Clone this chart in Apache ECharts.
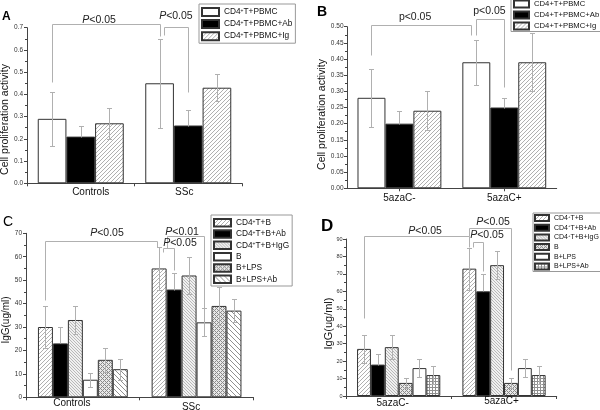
<!DOCTYPE html>
<html><head><meta charset="utf-8">
<script src="https://cdn.jsdelivr.net/npm/echarts@6/dist/echarts.min.js"></script>
<style>html,body{margin:0;padding:0;background:#fff}#c{width:600px;height:410px}</style>
</head><body><div id="c"></div>
<script>
// ================= DATA =================
// Panel A
const catsA = ['Controls', 'SSc'];
const namesA = ['CD4+T+PBMC', 'CD4+T+PBMC+Ab', 'CD4+T+PBMC+Ig'];
const a_PBMC = [0.29, 0.45], a_PBMC_lo = [0.17, 0.25], a_PBMC_hi = [0.41, 0.65];
const a_Ab   = [0.21, 0.26], a_Ab_lo   = [null, null], a_Ab_hi   = [0.26, 0.33];
const a_Ig   = [0.27, 0.43], a_Ig_lo   = [0.20, 0.37], a_Ig_hi   = [0.34, 0.49];
const yTicksA = [0, 0.7, 0.1];
// Panel B
const catsB = ['5azaC-', '5azaC+'];
const namesB = ['CD4+T+PBMC', 'CD4+T+PBMC+Ab', 'CD4+T+PBMC+Ig'];
const b_PBMC = [0.28, 0.39], b_PBMC_lo = [0.19, 0.32], b_PBMC_hi = [0.37, 0.46];
const b_Ab   = [0.20, 0.25], b_Ab_lo   = [null, null], b_Ab_hi   = [0.24, 0.28];
const b_Ig   = [0.24, 0.39], b_Ig_lo   = [0.18, 0.30], b_Ig_hi   = [0.30, 0.48];
const yTicksB = [0, 0.5, 0.05];
// Panel C
const catsC = ['Controls', 'SSc'];
const namesC = ['CD4+T+B', 'CD4+T+B+Ab', 'CD4+T+B+IgG', 'B', 'B+LPS', 'B+LPS+Ab'];
const c_TB     = [30, 55],  c_TB_lo     = [21, 46],   c_TB_hi     = [39, 64];
const c_TBAb   = [23, 46],  c_TBAb_lo   = [null, null], c_TBAb_hi = [30, 53];
const c_TBIgG  = [33, 52],  c_TBIgG_lo  = [27, 44],   c_TBIgG_hi  = [39, 60];
const c_B      = [7.5, 32], c_B_lo      = [4.5, 26],  c_B_hi      = [10.5, 38];
const c_BLPS   = [16, 39],  c_BLPS_lo   = [11, 31],   c_BLPS_hi   = [21, 47];
const c_BLPSAb = [12, 37],  c_BLPSAb_lo = [7.5, 32],  c_BLPSAb_hi = [16.5, 42];
const yTicksC = [0, 70, 10];
// Panel D
const catsD = ['5azaC-', '5azaC+'];
const namesD = ['CD4+T+B', 'CD4+T+B+Ab', 'CD4+T+B+IgG', 'B', 'B+LPS', 'B+LPS+Ab'];
const d_TB     = [27, 73],   d_TB_lo     = [19, 61],   d_TB_hi     = [35, 85];
const d_TBAb   = [18, 60],   d_TBAb_lo   = [null, null], d_TBAb_hi = [24, 70];
const d_TBIgG  = [28, 75],   d_TBIgG_lo  = [21, 67],   d_TBIgG_hi  = [35, 83];
const d_B      = [7.5, 7.5], d_B_lo      = [4.5, 4.5], d_B_hi      = [10.5, 10.5];
const d_BLPS   = [16, 16],   d_BLPS_lo   = [11, 11],   d_BLPS_hi   = [21, 21];
const d_BLPSAb = [12, 12],   d_BLPSAb_lo = [7, 7],     d_BLPSAb_hi = [17, 17];
const yTicksD = [0, 90, 10];

// axis titles
const yTitleA = 'Cell proliferation activity', yTitleB = 'Cell proliferation activity';
const yTitleC = 'IgG(ug/ml)', yTitleD = 'IgG(ug/ml)';

// significance brackets: l/r = [category, bar slot], values in data units
const sigA = [
  {l:[0,0], r:[1,0], top:0.715, lLeg:0.457, rLeg:0.664, t:[0,1.64], ty:0.735, text:'{i|P}<0.05'},
  {l:[1,0.17], r:[1,1], top:0.704, lLeg:0.667, rLeg:0.412, t:[1,0.57], ty:0.753, text:'{i|P}<0.05'}
];
const sigB = [
  {l:[0,0], r:[1,-0.18], top:0.505, lLeg:0.412, rLeg:0.474, t:[0,1.56], ty:0.53, text:'p<0.05'},
  {l:[1,0], r:[1,1], top:0.523, lLeg:0.474, rLeg:0.3125, t:[1,0.47], ty:0.547, text:'p<0.05'}
];
const sigC = [
  {l:[0,0], r:[1,-0.16], top:66.7, lLeg:41.6, rLeg:64.1, t:[0,4.11], ty:70.1, text:'{i|P}<0.05'},
  {l:[1,0.5], r:[1,3], top:68.8, lLeg:63.9, rLeg:38.1, t:[1,1.53], ty:70.6, text:'{i|P}<0.01'},
  {l:[1,0.28], r:[1,1], top:63.9, lLeg:62, rLeg:54.3, t:[1,1.39], ty:65.9, text:'{i|P}<0.05'}
];
const sigD = [
  {l:[0,0], r:[1,0], top:91.9, lLeg:44.6, rLeg:85.6, t:[0,4.4], ty:94.8, text:'{i|P}<0.05'},
  {l:[1,0], r:[1,3], top:96.2, lLeg:91.9, rLeg:14.9, t:[1,1.71], ty:99.5, text:'{i|P}<0.05'},
  {l:[1,0.29], r:[1,1], top:88.1, lLeg:85.6, rLeg:71.7, t:[1,1.27], ty:92.4, text:'{i|P}<0.05'}
];

// ================= STYLE =================
const FONT = '"Liberation Sans", Arial, sans-serif';
function pat(kind, s, col, bg) {
  const c = document.createElement('canvas'); c.width = s; c.height = s;
  const g = c.getContext('2d'); g.fillStyle = bg || '#fff'; g.fillRect(0, 0, s, s); g.fillStyle = col;
  for (let x = 0; x < s; x++) for (let y = 0; y < s; y++) {
    let on = false;
    if (kind === '/') on = (x + y) % s === 0;
    if (kind === '\\') on = (x - y + s) % s === 0;
    if (kind === 'x') on = (x + y) % s === 0 || (x - y + s) % s === 0;
    if (kind === '#') on = x === 0 || y === 0;
    if (on) g.fillRect(x, y, 1, 1);
  }
  return {image: c, repeat: 'repeat'};
}
const WHITE = '#ffffff', BLACK = '#000000';
const FWD = pat('/', 4, '#b0b0b0');
const BACKD = pat('\\', 3, '#b8b8b8', '#f0f0f0');
const CROSS = pat('x', 4, '#8a8a8a', '#e8e8e8');
const BACK = pat('\\', 5, '#909090');
const GRID = pat('#', 3, '#909090');

const stylesA = [WHITE, BLACK, FWD];
const stylesB = [WHITE, BLACK, FWD];
const stylesC = [FWD, BLACK, BACKD, WHITE, CROSS, BACK];
const stylesD = [FWD, BLACK, BACKD, CROSS, WHITE, GRID];

const grids = [
  {left: 27, top: 27.7, width: 215, height: 155.6},
  {left: 347, top: 26.7, width: 209.7, height: 161.6},
  {left: 26, top: 233.3, width: 227.4, height: 164},
  {left: 346, top: 239, width: 210.7, height: 157}
];
const gaps = [0.2, 0.2, 0.21, 0.21];

const panels = [
  {id:'A', cats: catsA, names: namesA, vals:[a_PBMC, a_Ab, a_Ig], lo:[a_PBMC_lo, a_Ab_lo, a_Ig_lo], hi:[a_PBMC_hi, a_Ab_hi, a_Ig_hi], styles: stylesA, sig: sigA, ticks: yTicksA},
  {id:'B', cats: catsB, names: namesB, vals:[b_PBMC, b_Ab, b_Ig], lo:[b_PBMC_lo, b_Ab_lo, b_Ig_lo], hi:[b_PBMC_hi, b_Ab_hi, b_Ig_hi], styles: stylesB, sig: sigB, ticks: yTicksB},
  {id:'C', cats: catsC, names: namesC, vals:[c_TB, c_TBAb, c_TBIgG, c_B, c_BLPS, c_BLPSAb], lo:[c_TB_lo, c_TBAb_lo, c_TBIgG_lo, c_B_lo, c_BLPS_lo, c_BLPSAb_lo], hi:[c_TB_hi, c_TBAb_hi, c_TBIgG_hi, c_B_hi, c_BLPS_hi, c_BLPSAb_hi], styles: stylesC, sig: sigC, ticks: yTicksC},
  {id:'D', cats: catsD, names: namesD, vals:[d_TB, d_TBAb, d_TBIgG, d_B, d_BLPS, d_BLPSAb], lo:[d_TB_lo, d_TBAb_lo, d_TBIgG_lo, d_B_lo, d_BLPS_lo, d_BLPSAb_lo], hi:[d_TB_hi, d_TBAb_hi, d_TBIgG_hi, d_B_hi, d_BLPS_hi, d_BLPSAb_hi], styles: stylesD, sig: sigD, ticks: yTicksD}
];

// per-panel axis cosmetics
const yCfg = [
  {fmt: v => v.toFixed(1), font: 6.5, margin: 4},
  {fmt: v => v.toFixed(2), font: 6.5, margin: 3.5},
  {fmt: v => String(v), font: 6.5, margin: 4},
  {fmt: v => String(v), font: 5.5, margin: 3.5}
];
const yTitles = [
  {text: yTitleA, x: 5, y: 119.5, size: 10.5},
  {text: yTitleB, x: 322, y: 114.5, size: 10.5},
  {text: yTitleC, x: 6, y: 320, size: 10},
  {text: yTitleD, x: 329, y: 323.5, size: 11}
];
const xCfg = [
  {margin: 4, align: false, rich: {a: {padding: [0, 0, 0, 20]}, b: {padding: [0, 8, 0, 0]}}},
  {margin: 5, align: true, rich: {a: {}, b: {}}},
  {margin: 1, align: false, rich: {a: {padding: [0, 22, 0, 0]}, b: {padding: [4, 11, 0, 0]}}},
  {margin: 0, align: false, rich: {a: {padding: [2, 12, 0, 0]}, b: {padding: [0, 5, 0, 0]}}}
];
const legCfg = [
  {left: 199, top: 4, pad: [3, 3, 2, 2], w: 17, h: 8, gap: 2.1, font: 8.3, sup: true},
  {left: 511, top: -2.5, pad: [2, 3, 1, 2], w: 15, h: 7, gap: 2.0, font: 7.7, sup: false},
  {left: 211, top: 215, pad: [3, 3, 2, 2], w: 17, h: 7.5, gap: 1.8, font: 8.3, sup: true},
  {left: 533, top: 213, pad: [1, 2, 1, 1], w: 14, h: 6, gap: 1.7, font: 7, sup: true}
];

function xAt(api, cat, s, n, gap) {
  const c = api.coord([cat, 0])[0];
  const band = api.size([1, 0])[0];
  const bw = band * (1 - gap) / n;
  return c + (s - (n - 1) / 2) * bw;
}

const option = {
  animation: false,
  backgroundColor: '#fff',
  textStyle: {fontFamily: FONT},
  title: [
    {text: 'A', left: 2, top: 10.5, padding: 0, textStyle: {fontSize: 12, fontWeight: 'bold', color: '#000', fontFamily: FONT}},
    {text: 'B', left: 317, top: 5, padding: 0, textStyle: {fontSize: 14, fontWeight: 'bold', color: '#000', fontFamily: FONT}},
    {text: 'C', left: 3, top: 215, padding: 0, textStyle: {fontSize: 14, fontWeight: 'normal', color: '#000', fontFamily: FONT}},
    {text: 'D', left: 321, top: 218, padding: 0, textStyle: {fontSize: 17, fontWeight: 'bold', color: '#000', fontFamily: FONT}}
  ],
  graphic: yTitles.map(t => ({
    type: 'text', x: t.x, y: t.y, rotation: Math.PI / 2, silent: true,
    style: {text: t.text, fontSize: t.size, fontFamily: FONT, fill: '#111', align: 'center', verticalAlign: 'middle'}
  })),
  grid: grids.map(g => Object.assign({containLabel: false, outerBoundsMode: 'none'}, g)),
  xAxis: panels.map((p, i) => ({
    type: 'category', gridIndex: i, data: p.cats, boundaryGap: true,
    axisLine: {show: true, lineStyle: {color: '#444', width: 1}},
    axisTick: {show: true, length: 3, alignWithLabel: xCfg[i].align, lineStyle: {color: '#444'}},
    axisLabel: {fontSize: 10, color: '#111', fontFamily: FONT, margin: xCfg[i].margin,
      formatter: (v, idx) => (idx === 0 ? '{a|' : '{b|') + v + '}',
      rich: {a: Object.assign({fontSize: 10, fontFamily: FONT, color: '#111'}, xCfg[i].rich.a),
             b: Object.assign({fontSize: 10, fontFamily: FONT, color: '#111'}, xCfg[i].rich.b)}},
    splitLine: {show: false}
  })),
  yAxis: panels.map((p, i) => ({
    type: 'value', gridIndex: i, min: p.ticks[0], max: p.ticks[1], interval: p.ticks[2],
    axisLine: {show: true, lineStyle: {color: '#444', width: 1}},
    axisTick: {show: true, length: 3, lineStyle: {color: '#444'}},
    minorTick: {show: true, splitNumber: 2, length: 2, lineStyle: {color: '#444'}},
    axisLabel: {fontSize: yCfg[i].font, color: '#333', fontFamily: FONT, margin: yCfg[i].margin, formatter: yCfg[i].fmt},
    splitLine: {show: false}
  })),
  legend: panels.map((p, i) => ({
    orient: 'vertical', left: legCfg[i].left, top: legCfg[i].top, padding: legCfg[i].pad,
    itemWidth: legCfg[i].w, itemHeight: legCfg[i].h, itemGap: legCfg[i].gap, icon: 'rect',
    borderColor: '#999', borderWidth: 1, backgroundColor: '#fff', selectedMode: false,
    data: p.names.map(n => p.id + '|' + n),
    formatter: name => { const t = name.slice(2); return legCfg[i].sup ? t.replace('CD4+', 'CD4{s|+}') : t; },
    textStyle: {fontSize: legCfg[i].font, color: '#111', fontFamily: FONT,
      rich: {s: {fontSize: legCfg[i].font * 0.6, fontFamily: FONT, color: '#111', verticalAlign: 'top'}}}
  })),
  series: []
};

panels.forEach((p, gi) => {
  const n = p.names.length, gap = gaps[gi];
  p.names.forEach((nm, s) => {
    option.series.push({
      type: 'bar', name: p.id + '|' + nm, xAxisIndex: gi, yAxisIndex: gi,
      data: p.vals[s], barGap: '0%', barCategoryGap: (gap * 100) + '%',
      itemStyle: {color: p.styles[s], borderColor: '#333', borderWidth: 1},
      z: 2
    });
  });
  // error bars
  const errData = [];
  p.names.forEach((nm, s) => p.cats.forEach((c, ci) => {
    const lo = p.lo[s][ci];
    errData.push([ci, s, p.vals[s][ci], lo == null ? p.vals[s][ci] : lo, p.hi[s][ci], lo == null ? 0 : 1]);
  }));
  option.series.push({
    type: 'custom', xAxisIndex: gi, yAxisIndex: gi, z: 5, silent: true, clip: false,
    data: errData, encode: {x: 0, y: 4},
    renderItem: (params, api) => {
      const ci = api.value(0), s = api.value(1), lo = api.value(3), hi = api.value(4), hasLo = api.value(5);
      const x = Math.round(xAt(api, ci, s, n, gap)) + 0.5;
      const yh = Math.round(api.coord([ci, hi])[1]) + 0.5, yl = Math.round(api.coord([ci, lo])[1]) + 0.5;
      const st = {stroke: '#b0b0b0', lineWidth: 1};
      const ch = [
        {type: 'line', shape: {x1: x, y1: yl, x2: x, y2: yh}, style: st},
        {type: 'line', shape: {x1: x - 2.5, y1: yh, x2: x + 2.5, y2: yh}, style: st}
      ];
      if (hasLo) ch.push({type: 'line', shape: {x1: x - 2.5, y1: yl, x2: x + 2.5, y2: yl}, style: st});
      return {type: 'group', children: ch};
    }
  });
  // significance brackets
  option.series.push({
    type: 'custom', xAxisIndex: gi, yAxisIndex: gi, z: 6, silent: true, clip: false,
    data: p.sig.map(b => [b.l[0], b.top]), encode: {x: 0, y: 1},
    renderItem: (params, api) => {
      const b = p.sig[params.dataIndex];
      const xl = Math.round(xAt(api, b.l[0], b.l[1], n, gap)) + 0.5;
      const xr = Math.round(xAt(api, b.r[0], b.r[1], n, gap)) + 0.5;
      const y = v => Math.round(api.coord([0, v])[1]) + 0.5;
      const tx = xAt(api, b.t[0], b.t[1], n, gap);
      return {type: 'group', children: [
        {type: 'polyline', shape: {points: [[xl, y(b.lLeg)], [xl, y(b.top)], [xr, y(b.top)], [xr, y(b.rLeg)]]},
         style: {stroke: '#b0b0b0', lineWidth: 1, fill: null}},
        {type: 'text', x: tx, y: api.coord([0, b.ty])[1],
         style: {text: b.text, fontSize: 10.5, fontFamily: FONT, fill: '#222', align: 'center', verticalAlign: 'middle',
           rich: {i: {fontSize: 10.5, fontStyle: 'italic', fontFamily: FONT, fill: '#222'}}}}
      ]};
    }
  });
});

const chart = echarts.init(document.getElementById('c'), null, {renderer: 'canvas', width: 600, height: 410});
chart.setOption(option);
</script>
</body></html>
